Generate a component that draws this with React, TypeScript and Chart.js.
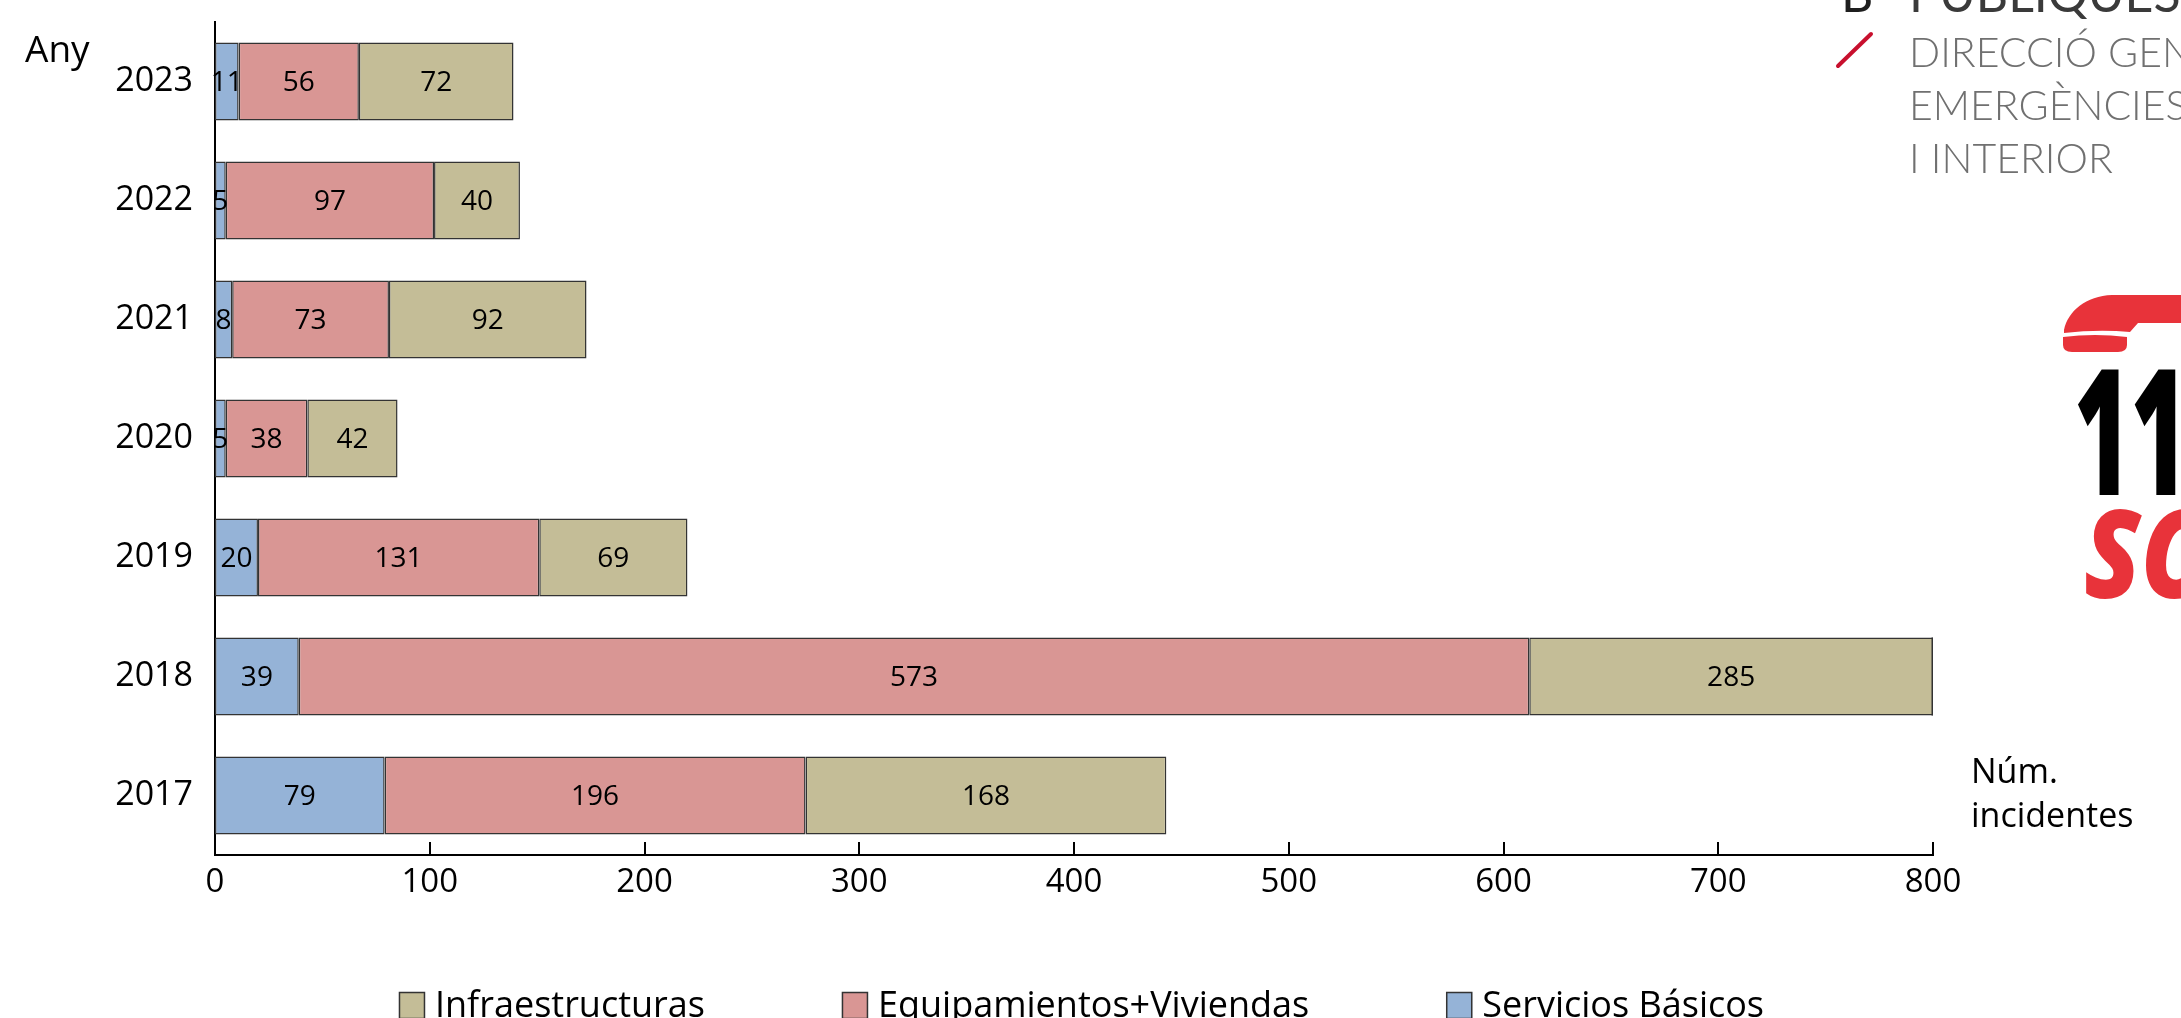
import React, { useEffect, useRef } from 'react';
import { Chart, registerables } from 'chart.js';

Chart.register(...registerables);

// ---- Data ----
const years = ['2017', '2018', '2019', '2020', '2021', '2022', '2023'];
const serviciosBasicos = [79, 39, 20, 5, 8, 5, 11];
const equipamientosViviendas = [196, 573, 131, 38, 73, 97, 56];
const infraestructuras = [168, 285, 69, 42, 92, 40, 72];
const xTickValues = [0, 100, 200, 300, 400, 500, 600, 700, 800];
const seriesNames = ['Servicios Básicos', 'Equipamientos+Viviendas', 'Infraestructuras'];
const seriesColors = ['#95B3D7', '#D99694', '#C4BD97'];
const legendOrder = [2, 1, 0];
const yAxisTitle = 'Any';
const xAxisTitle = ['Núm.', 'incidentes'];

const W = 2181;
const H = 1018;
const FONT = '"Open Sans", "Noto Sans", sans-serif';

const overlayPlugin = {
  id: 'overlay',
  afterDatasetsDraw(chart: any) {
    const ctx = chart.ctx;
    const area = chart.chartArea;
    ctx.save();
    // value labels
    const size = 28;
    ctx.font = `${size}px ${FONT}`;
    ctx.fillStyle = '#000';
    ctx.textAlign = 'center';
    ctx.textBaseline = 'alphabetic';
    chart.data.datasets.forEach((ds: any, di: number) => {
      const meta = chart.getDatasetMeta(di);
      meta.data.forEach((el: any, i: number) => {
        const p = el.getProps(['x', 'base', 'y', 'height'], true);
        const right = Math.min(p.x, area.right);
        const left = Math.max(p.base, area.left);
        ctx.fillText(String(ds.data[i]), (left + right) / 2, p.y + size * 0.357);
        if (p.x > area.right + 1) {
          ctx.strokeStyle = '#333';
          ctx.lineWidth = 1.5;
          ctx.beginPath();
          ctx.moveTo(area.right - 0.75, p.y - p.height / 2);
          ctx.lineTo(area.right - 0.75, p.y + p.height / 2);
          ctx.stroke();
        }
      });
    });
    ctx.restore();
  },
  afterDraw(chart: any) {
    const ctx = chart.ctx;
    const area = chart.chartArea;
    const xs = chart.scales.x;
    ctx.save();
    // inner ticks on x axis
    ctx.strokeStyle = '#000';
    ctx.lineWidth = 2;
    xTickValues.forEach((v) => {
      const px = Math.round(xs.getPixelForValue(v));
      ctx.beginPath();
      ctx.moveTo(px, area.bottom);
      ctx.lineTo(px, area.bottom - 13);
      ctx.stroke();
    });

    // axis titles
    ctx.fillStyle = '#000';
    ctx.textAlign = 'left';
    ctx.textBaseline = 'alphabetic';
    ctx.font = `37px ${FONT}`;
    ctx.fillText(yAxisTitle, 25, 62);
    ctx.font = `34px ${FONT}`;
    ctx.fillText(xAxisTitle[0], 1971, 783);
    ctx.fillText(xAxisTitle[1], 1971, 827);

    // legend
    ctx.font = `36px ${FONT}`;
    const box = 26;
    const gapText = 10;
    const gapItems = 137;
    const items = legendOrder.map((i) => ({
      label: chart.data.datasets[i].label as string,
      color: chart.data.datasets[i].backgroundColor as string,
    }));
    const widths = items.map((it) => box + gapText + ctx.measureText(it.label).width);
    const total = widths.reduce((a, b) => a + b, 0) + gapItems * (items.length - 1);
    let lx = W / 2 - 9 - total / 2;
    items.forEach((it, k) => {
      ctx.fillStyle = it.color;
      ctx.fillRect(lx, 992, box, box);
      ctx.strokeStyle = '#333';
      ctx.lineWidth = 1.5;
      ctx.strokeRect(lx + 0.5, 992.5, box - 1, box);
      ctx.fillStyle = '#000';
      ctx.fillText(it.label, lx + box + gapText, 1017);
      lx += widths[k] + gapItems;
    });

    // logo text (top right)
    ctx.font = `400 50px Lato, ${FONT}`;
    ctx.fillStyle = '#1e1e1e';
    ctx.fillText('B', 1841, 12);
    ctx.fillStyle = '#3a3a3a';
    ctx.fillText('PÚBLIQUES', 1909, 12);
    ctx.strokeStyle = '#C8102E';
    ctx.lineWidth = 4;
    ctx.lineCap = 'round';
    ctx.beginPath();
    ctx.moveTo(1838, 66);
    ctx.lineTo(1871, 34);
    ctx.stroke();
    ctx.font = `300 41px Lato, ${FONT}`;
    ctx.fillStyle = '#707070';
    ctx.fillText('DIRECCIÓ GENERAL', 1909, 67);
    ctx.fillText('EMERGÈNCIES', 1909, 120);
    ctx.fillText('I INTERIOR', 1909, 173);

    // 112 SOS logo
    ctx.fillStyle = '#E8333A';
    ctx.beginPath();
    ctx.moveTo(2181, 295);
    ctx.lineTo(2112, 295);
    ctx.bezierCurveTo(2086, 296, 2068, 311, 2064, 330);
    ctx.lineTo(2064, 333);
    ctx.quadraticCurveTo(2098, 329, 2130, 332);
    ctx.lineTo(2138, 323);
    ctx.lineTo(2181, 323);
    ctx.closePath();
    ctx.fill();
    ctx.beginPath();
    ctx.moveTo(2063, 337);
    ctx.quadraticCurveTo(2095, 333, 2127, 337);
    ctx.lineTo(2127, 345);
    ctx.quadraticCurveTo(2127, 352, 2118, 352);
    ctx.lineTo(2072, 352);
    ctx.quadraticCurveTo(2063, 352, 2063, 345);
    ctx.closePath();
    ctx.fill();

    ctx.save();
    ctx.fillStyle = '#000';
    ctx.font = `800 176px ${FONT}`;
    ctx.translate(2074, 495);
    ctx.scale(0.55, 1);
    ctx.fillText('112', 0, 0);
    ctx.restore();

    ctx.save();
    ctx.fillStyle = '#E8333A';
    ctx.font = `italic 800 122px ${FONT}`;
    ctx.translate(2084, 598);
    ctx.scale(0.85, 1);
    ctx.fillText('SOS', 0, 0);
    ctx.restore();

    ctx.restore();
  },
};

export default function App() {
  const ref = useRef<HTMLCanvasElement | null>(null);

  useEffect(() => {
    document.body.style.margin = '0';
    const canvas = ref.current;
    if (!canvas) return;
    Chart.defaults.color = '#000';
    Chart.defaults.font.family = FONT;

    const datasetValues = [serviciosBasicos, equipamientosViviendas, infraestructuras];
    const chart = new Chart(canvas, {
      type: 'bar',
      data: {
        labels: years,
        datasets: datasetValues.map((vals, i) => ({
          label: seriesNames[i],
          data: vals,
          backgroundColor: seriesColors[i],
          borderColor: '#333',
          borderWidth: 1.5,
          borderSkipped: false,
          categoryPercentage: 1,
          barPercentage: 0.655,
        })),
      },
      options: {
        indexAxis: 'y',
        responsive: false,
        animation: false,
        devicePixelRatio: 1,
        layout: { padding: { top: 22, right: 248, left: 0, bottom: 0 } },
        scales: {
          x: {
            stacked: true,
            min: 0,
            max: 800,
            afterBuildTicks: (s: any) => {
              s.ticks = xTickValues.map((v) => ({ value: v }));
            },
            ticks: { font: { size: 33, family: FONT }, color: '#000', padding: 8, maxRotation: 0 },
            grid: { display: false, drawTicks: false },
            border: { display: true, color: '#000', width: 2 },
            afterFit: (s: any) => {
              s.height = H - 855;
              s.paddingLeft = 0;
              s.paddingRight = 0;
            },
          },
          y: {
            stacked: true,
            reverse: true,
            ticks: { font: { size: 34, family: FONT }, color: '#000', padding: 22 },
            grid: { display: false, drawTicks: false },
            border: { display: true, color: '#000', width: 2 },
            afterFit: (s: any) => {
              s.width = 215;
              s.paddingTop = 0;
              s.paddingBottom = 0;
            },
          },
        },
        plugins: {
          legend: { display: false },
          tooltip: { enabled: false },
          title: { display: false },
        },
      },
      plugins: [overlayPlugin],
    });
    return () => chart.destroy();
  }, []);

  return (
    <div style={{ width: W, height: H, background: '#fff' }}>
      <canvas ref={ref} width={W} height={H} style={{ display: 'block', width: W, height: H }} />
    </div>
  );
}
